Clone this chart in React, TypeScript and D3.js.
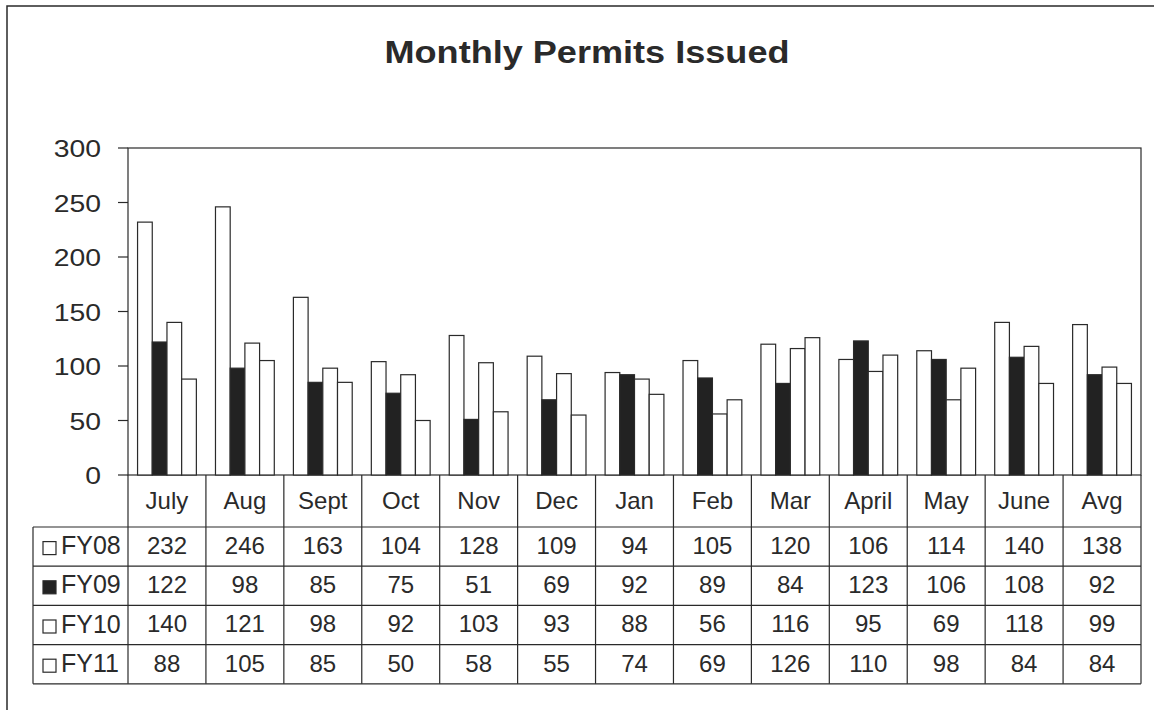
import React from "react";
import * as d3 from "d3";

// chart data
const months = ["July", "Aug", "Sept", "Oct", "Nov", "Dec", "Jan", "Feb", "Mar", "April", "May", "June", "Avg"];
const seriesNames = ["FY08", "FY09", "FY10", "FY11"];
const fy08 = [232, 246, 163, 104, 128, 109, 94, 105, 120, 106, 114, 140, 138];
const fy09 = [122, 98, 85, 75, 51, 69, 92, 89, 84, 123, 106, 108, 92];
const fy10 = [140, 121, 98, 92, 103, 93, 88, 56, 116, 95, 69, 118, 99];
const fy11 = [88, 105, 85, 50, 58, 55, 74, 69, 126, 110, 98, 84, 84];
const yTicks = [0, 50, 100, 150, 200, 250, 300];

const seriesValues = [fy08, fy09, fy10, fy11];
const seriesFill = ["#fff", "#222", "#fff", "#fff"];

const W = 1154;
const H = 710;
const plot = { left: 128, right: 1141, top: 148, bottom: 475 };
const headerBottom = 527;
const rowH = 39.2;
const legendLeft = 33;
const ink = "#2a2a2a";
const font = "'Liberation Sans', Arial, sans-serif";

export default function App() {
  const x = d3.scaleBand<string>().domain(months).range([plot.left, plot.right]).padding(0);
  const xInner = d3
    .scaleBand<string>()
    .domain(seriesNames)
    .range([0, x.bandwidth()])
    .paddingOuter(0.65)
    .paddingInner(0);
  const y = d3.scaleLinear().domain([0, 300]).range([plot.bottom, plot.top]);

  const tableBottom = headerBottom + rowH * seriesNames.length;

  return (
    <svg
      width={W}
      height={H}
      style={{ position: "absolute", left: 0, top: 0, background: "#fff", fontFamily: font }}
    >
      {/* outer frame */}
      <rect x={7} y={6} width={W + 10} height={H + 10} fill="none" stroke={ink} strokeWidth={1.5} />

      <text
        x={587}
        y={55}
        textAnchor="middle"
        dominantBaseline="middle"
        fontSize={31}
        fontWeight="bold"
        fill={ink}
        textLength={405}
        lengthAdjust="spacingAndGlyphs"
      >
        Monthly Permits Issued
      </text>

      {/* plot frame */}
      <rect
        x={plot.left}
        y={plot.top}
        width={plot.right - plot.left}
        height={plot.bottom - plot.top}
        fill="none"
        stroke={ink}
        strokeWidth={1.2}
      />

      {/* y axis */}
      {yTicks.map((t) => (
        <g key={t}>
          <line x1={plot.left - 10} x2={plot.left} y1={y(t)} y2={y(t)} stroke={ink} strokeWidth={1.2} />
          <text
            x={101}
            y={y(t) + 3}
            textAnchor="end"
            dominantBaseline="middle"
            fontSize={24}
            fill={ink}
            transform={`translate(${101 * -0.18},0) scale(1.18,1)`}
          >
            {t}
          </text>
        </g>
      ))}

      {/* bars */}
      {months.map((m, i) => (
        <g key={m} transform={`translate(${x(m)},0)`}>
          {seriesNames.map((s, j) => {
            const v = seriesValues[j][i];
            return (
              <rect
                key={s}
                x={xInner(s)}
                y={y(v)}
                width={xInner.bandwidth()}
                height={y(0) - y(v)}
                fill={seriesFill[j]}
                stroke={ink}
                strokeWidth={1.2}
              />
            );
          })}
        </g>
      ))}

      {/* category header row */}
      <line x1={plot.left} x2={plot.left} y1={plot.bottom} y2={tableBottom} stroke={ink} strokeWidth={1.2} />
      {months.map((m) => (
        <g key={m}>
          <line
            x1={(x(m) as number) + x.bandwidth()}
            x2={(x(m) as number) + x.bandwidth()}
            y1={plot.bottom}
            y2={tableBottom}
            stroke={ink}
            strokeWidth={1.2}
          />
          <text
            x={(x(m) as number) + x.bandwidth() / 2}
            y={(plot.bottom + headerBottom) / 2 + 2}
            textAnchor="middle"
            dominantBaseline="middle"
            fontSize={24}
            fill={ink}
          >
            {m}
          </text>
        </g>
      ))}

      {/* data table */}
      <line x1={legendLeft} x2={legendLeft} y1={headerBottom} y2={tableBottom} stroke={ink} strokeWidth={1.2} />
      {[0, 1, 2, 3, 4].map((r) => (
        <line
          key={r}
          x1={legendLeft}
          x2={plot.right}
          y1={headerBottom + r * rowH}
          y2={headerBottom + r * rowH}
          stroke={ink}
          strokeWidth={1.2}
        />
      ))}
      {seriesNames.map((s, j) => {
        const cy = headerBottom + j * rowH + rowH / 2 + 1;
        return (
          <g key={s}>
            <rect x={43} y={cy - 6} width={13} height={13} fill={seriesFill[j]} stroke={ink} strokeWidth={1.2} />
            <text x={61} y={cy} dominantBaseline="middle" fontSize={25} fill={ink}>
              {s}
            </text>
            {months.map((m, i) => (
              <text
                key={m}
                x={(x(m) as number) + x.bandwidth() / 2}
                y={cy}
                textAnchor="middle"
                dominantBaseline="middle"
                fontSize={24}
                fill={ink}
              >
                {seriesValues[j][i]}
              </text>
            ))}
          </g>
        );
      })}
    </svg>
  );
}
